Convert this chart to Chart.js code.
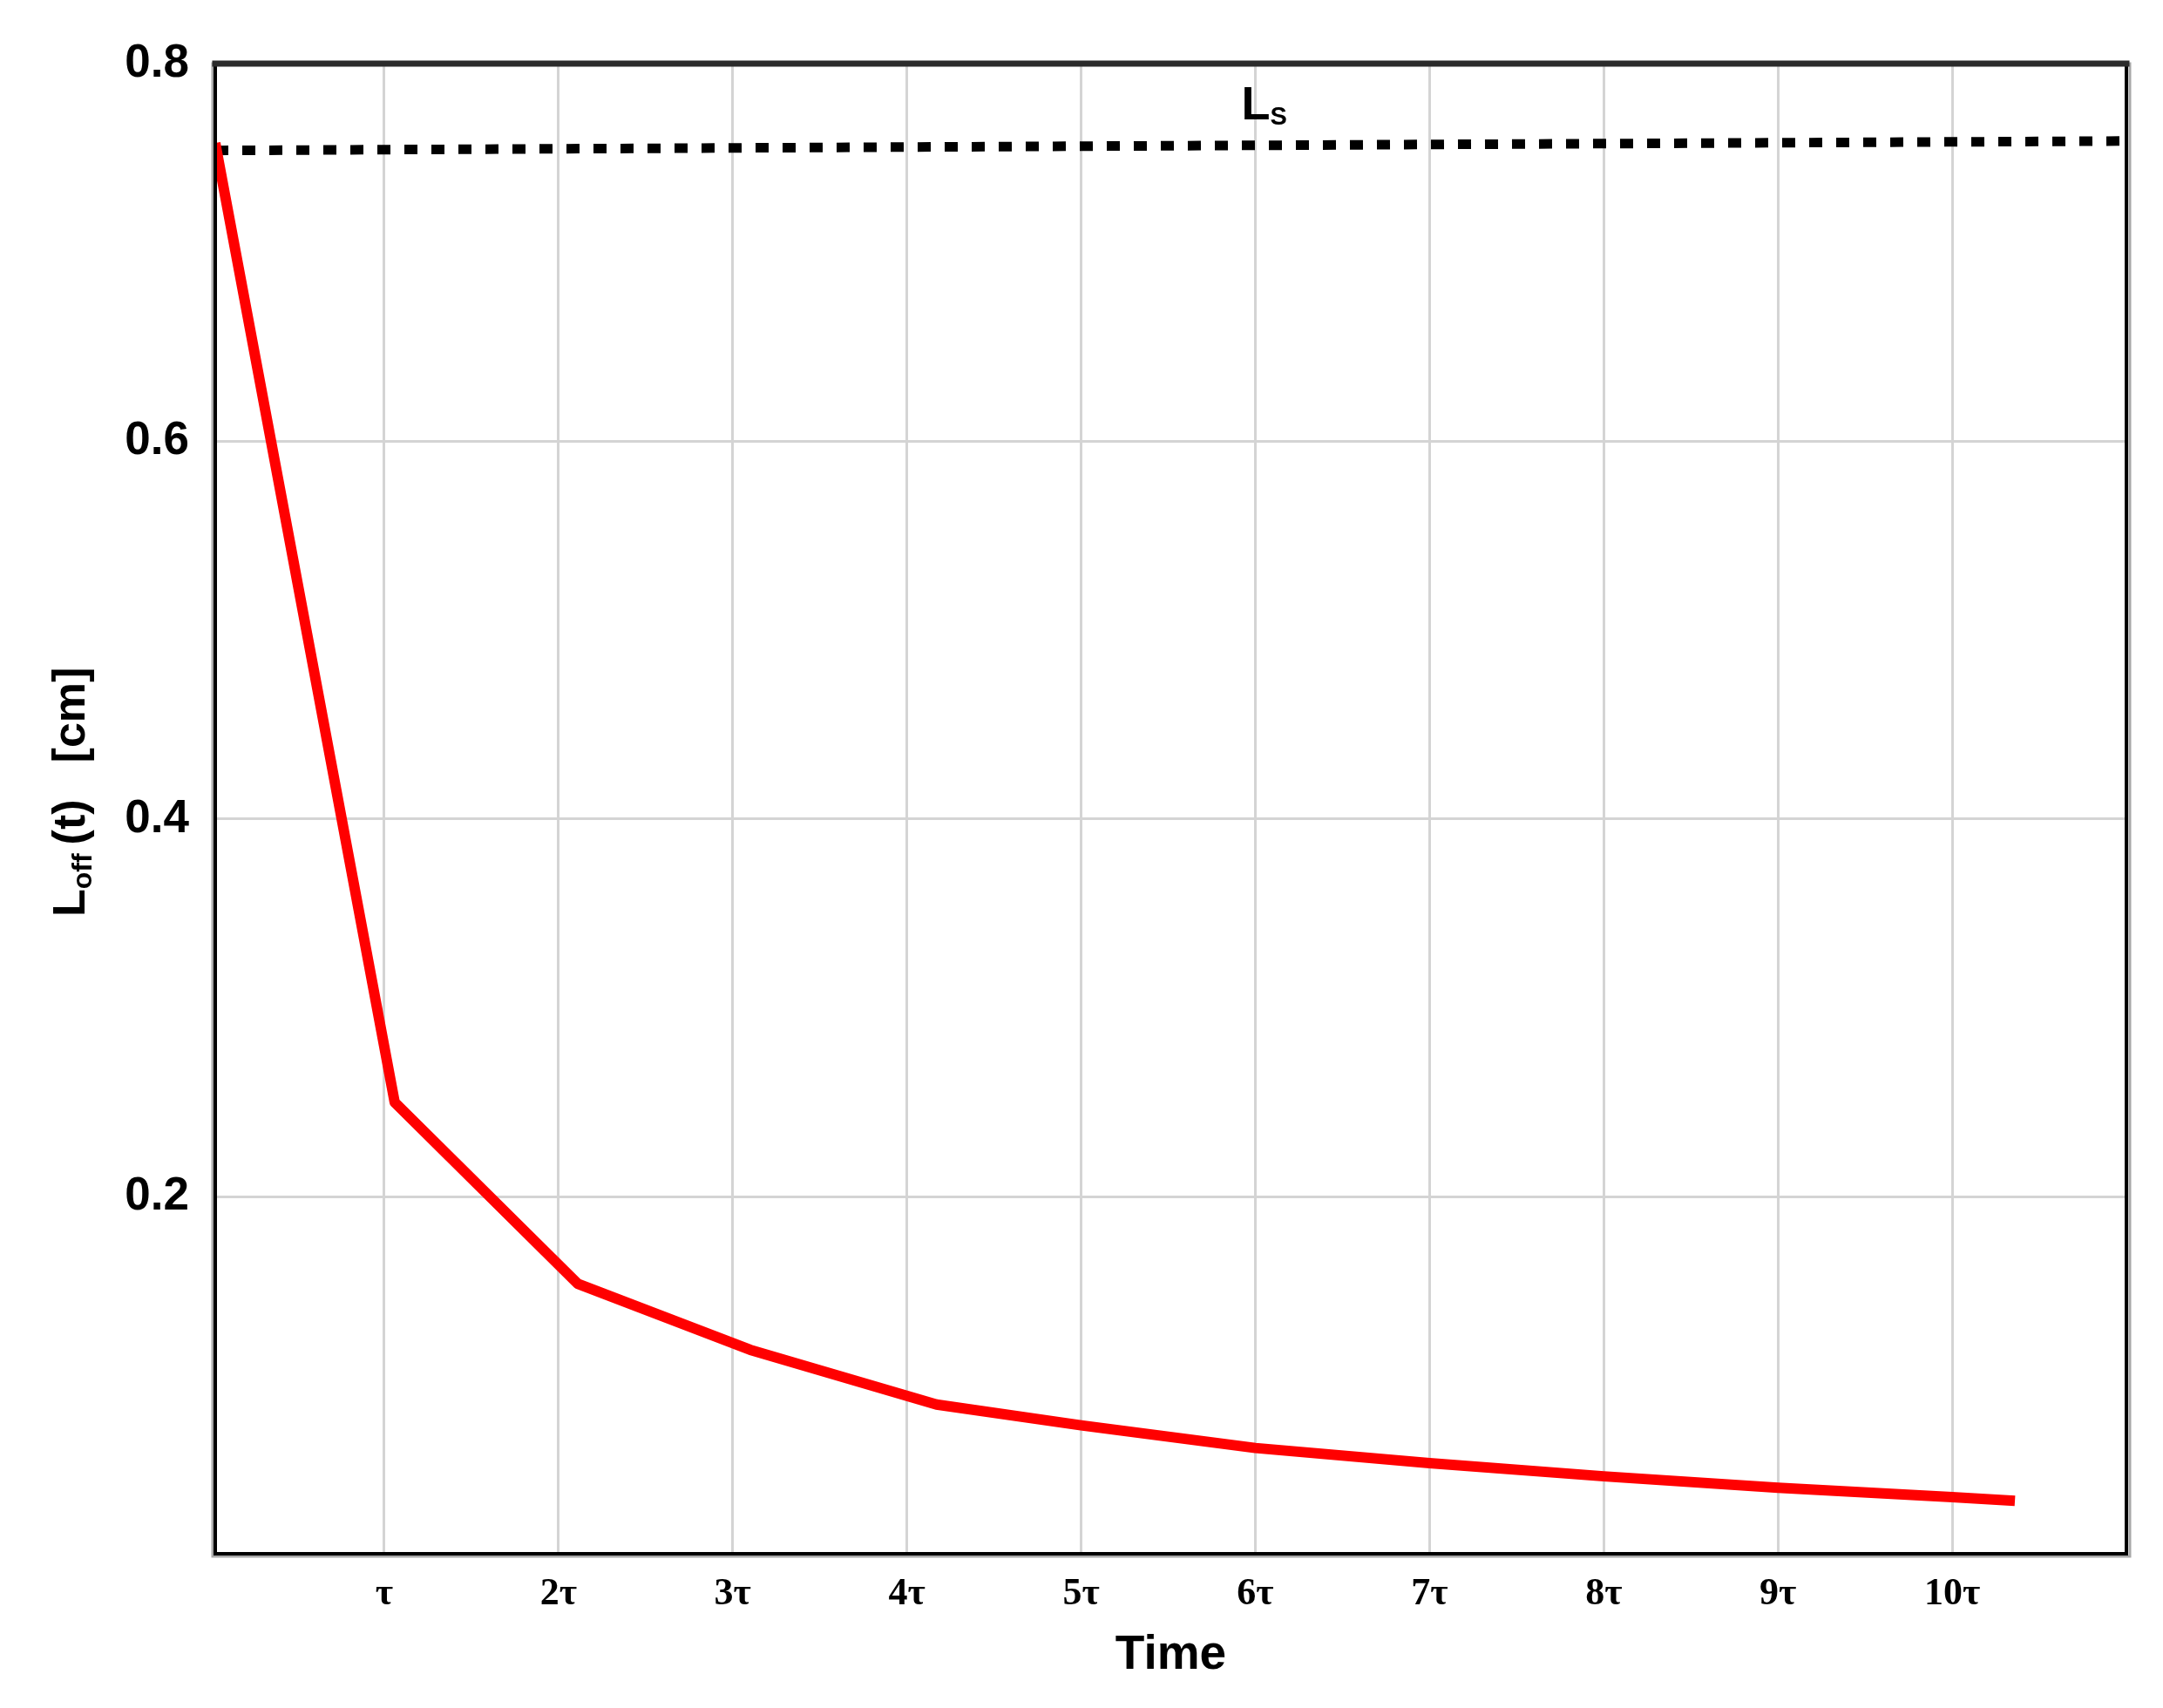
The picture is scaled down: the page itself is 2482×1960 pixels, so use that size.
<!DOCTYPE html>
<html>
<head>
<meta charset="utf-8">
<script src="https://cdn.jsdelivr.net/npm/chart.js@4"></script>
<style>
  body { margin: 0; background: #ffffff; }
  #wrap { width: 2482px; height: 1960px; }
</style>
</head>
<body>
<div id="wrap"><canvas id="loff-chart"></canvas></div>
<script>
// red curve: L_off(t) (time in units of tau)
let timeValues = [0.03, 1.06, 2.11, 3.1, 4.17, 5.0, 6.0, 7.0, 8.0, 9.0, 10.0, 10.36]
let loffValues = [0.758, 0.250, 0.154, 0.119, 0.090, 0.079, 0.067, 0.059, 0.052, 0.046, 0.041, 0.039]

// dotted line Ls
let lsTime = [0.03, 10.96]
let lsValues = [0.754, 0.759]

// ticks
let xTickValues = [1, 2, 3, 4, 5, 6, 7, 8, 9, 10]
let xTickLabels = ['τ', '2τ', '3τ', '4τ', '5τ', '6τ', '7τ', '8τ', '9τ', '10τ']
let yTickValues = [0.2, 0.4, 0.6, 0.8]

let toPoints = (xs, ys) => xs.map((x, i) => ({x: x, y: ys[i]}))

// frame around the plot, drawn by hand
let framePlugin = {
    id: 'frame',
    afterDatasetsDraw(chart) {
        let ctx = chart.ctx
        let a = chart.chartArea
        ctx.save()
        ctx.lineCap = 'square'
        // soft grey shadow
        ctx.strokeStyle = '#a8a8a8'
        ctx.lineWidth = 3
        ctx.beginPath()
        ctx.moveTo(a.left - 3, a.top); ctx.lineTo(a.left - 3, a.bottom + 3)
        ctx.lineTo(a.right + 4, a.bottom + 3); ctx.lineTo(a.right + 4, a.top)
        ctx.stroke()
        // black sides
        ctx.strokeStyle = '#000000'
        ctx.lineWidth = 4
        ctx.beginPath()
        ctx.moveTo(a.left, a.top); ctx.lineTo(a.left, a.bottom)
        ctx.lineTo(a.right, a.bottom); ctx.lineTo(a.right, a.top)
        ctx.stroke()
        // top edge is a bit heavier and dark grey
        ctx.strokeStyle = '#2b2b2b'
        ctx.lineWidth = 7
        ctx.beginPath()
        ctx.moveTo(a.left, a.top); ctx.lineTo(a.right, a.top)
        ctx.stroke()
        ctx.restore()
    }
}

// y axis title with subscript, and the Ls label
let textPlugin = {
    id: 'texts',
    afterDraw(chart) {
        let ctx = chart.ctx
        ctx.save()
        ctx.fillStyle = '#000000'
        ctx.textBaseline = 'alphabetic'
        ctx.textAlign = 'left'

        // L_off (t)  [cm], rotated
        ctx.translate(97, 1052)
        ctx.rotate(-Math.PI / 2)
        let big = 'bold 52px "Liberation Sans", Arial, sans-serif'
        let small = 'bold 32px "Liberation Sans", Arial, sans-serif'
        let pos = 0
        ctx.font = big
        ctx.fillText('L', pos, 0)
        pos += ctx.measureText('L').width
        ctx.font = small
        ctx.fillText('off', pos, 8)
        pos += ctx.measureText('off').width + 10
        ctx.font = big
        ctx.fillText('(t)', pos, 0)
        pos += ctx.measureText('(t)').width + 42
        ctx.fillText('[cm]', pos, 0)
        ctx.restore()

        // Ls above the dotted line
        let xs = chart.scales.x
        let ys = chart.scales.y
        let lx = xs.getPixelForValue(5.92)
        let ly = ys.getPixelForValue(0.7705)
        ctx.save()
        ctx.fillStyle = '#000000'
        ctx.textBaseline = 'alphabetic'
        ctx.font = 'bold 54px "Liberation Sans", Arial, sans-serif'
        ctx.fillText('L', lx, ly)
        let w = ctx.measureText('L').width
        ctx.font = 'bold 29px "Liberation Sans", Arial, sans-serif'
        ctx.fillText('S', lx + w, ly + 6)
        ctx.restore()
    }
}

let ctx = document.getElementById('loff-chart').getContext('2d')
let loffChart = new Chart(ctx, {
    type: 'scatter',
    data: {
        datasets: [
            {
                label: 'Ls',
                data: toPoints(lsTime, lsValues),
                showLine: true,
                borderColor: '#000000',
                borderWidth: 11,
                borderDash: [15, 16],
                borderCapStyle: 'butt',
                pointRadius: 0,
                order: 2
            },
            {
                label: 'Loff(t)',
                data: toPoints(timeValues, loffValues),
                showLine: true,
                borderColor: '#ff0000',
                borderWidth: 12,
                borderJoinStyle: 'round',
                borderCapStyle: 'butt',
                pointRadius: 0,
                tension: 0,
                order: 1
            }
        ]
    },
    options: {
        responsive: true,
        maintainAspectRatio: false,
        animation: false,
        layout: {
            padding: {left: 0, right: 42, top: 73, bottom: 0}
        },
        plugins: {
            legend: {display: false},
            tooltip: {enabled: false}
        },
        scales: {
            x: {
                type: 'linear',
                min: 0.03,
                max: 11,
                afterBuildTicks: scale => {
                    scale.ticks = xTickValues.map(v => ({value: v}))
                },
                afterFit: scale => { scale.height = 177 },
                grid: {color: '#d4d4d4', lineWidth: 3, drawTicks: false},
                border: {display: false},
                ticks: {
                    padding: 20,
                    color: '#000000',
                    font: {family: '"Liberation Serif", "Times New Roman", serif', size: 44, weight: 'bold'},
                    callback: (value) => xTickLabels[xTickValues.indexOf(value)] || ''
                },
                title: {
                    display: true,
                    text: 'Time',
                    color: '#000000',
                    font: {family: '"Liberation Sans", Arial, sans-serif', size: 55, weight: 'bold'},
                    padding: {top: 0, bottom: 27}
                }
            },
            y: {
                type: 'linear',
                min: 0.011,
                max: 0.8,
                afterBuildTicks: scale => {
                    scale.ticks = yTickValues.map(v => ({value: v}))
                },
                afterFit: scale => { scale.width = 247 },
                grid: {color: '#d4d4d4', lineWidth: 3, drawTicks: false},
                border: {display: false},
                ticks: {
                    padding: 30,
                    color: '#000000',
                    font: {family: '"Liberation Sans", Arial, sans-serif', size: 53, weight: 'bold'},
                    callback: (value) => value.toFixed(1)
                }
            }
        }
    },
    plugins: [framePlugin, textPlugin]
})
</script>
</body>
</html>
